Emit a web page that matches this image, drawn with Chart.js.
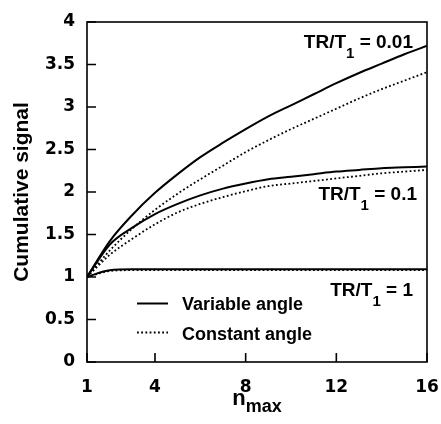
<!DOCTYPE html>
<html>
<head>
<meta charset="utf-8">
<script src="https://cdn.jsdelivr.net/npm/chart.js@4/dist/chart.umd.min.js"></script>
<style>
  html, body { margin: 0; padding: 0; background: #fff; }
  canvas { display: block; }
</style>
</head>
<body>
<canvas id="chart" width="441" height="424"></canvas>
<script>
// n_max values and cumulative signal
const nValues = [1, 2, 3, 4, 5, 6, 7, 8, 9, 10, 11, 12, 13, 14, 15, 16]
const varAngle001 = [1.00, 1.42, 1.73, 1.99, 2.21, 2.41, 2.58, 2.74, 2.89, 3.02, 3.15, 3.28, 3.40, 3.51, 3.62, 3.72]
const constAngle001 = [1.00, 1.31, 1.57, 1.79, 1.98, 2.15, 2.31, 2.47, 2.61, 2.74, 2.86, 2.98, 3.10, 3.21, 3.31, 3.41]
const varAngle01 = [1.00, 1.38, 1.58, 1.74, 1.86, 1.96, 2.04, 2.10, 2.15, 2.18, 2.21, 2.24, 2.26, 2.28, 2.29, 2.30]
const constAngle01 = [1.00, 1.26, 1.45, 1.62, 1.76, 1.86, 1.94, 2.01, 2.07, 2.10, 2.13, 2.16, 2.19, 2.22, 2.24, 2.26]
const varAngle1 = [1.00, 1.08, 1.09, 1.09, 1.09, 1.09, 1.09, 1.09, 1.09, 1.09, 1.09, 1.09, 1.09, 1.09, 1.09, 1.09]
const constAngle1 = [1.00, 1.07, 1.08, 1.08, 1.08, 1.08, 1.08, 1.08, 1.08, 1.08, 1.08, 1.08, 1.08, 1.08, 1.08, 1.08]

const xTicks = [1, 4, 8, 12, 16]
const legendLabels = ['Variable angle', 'Constant angle']
const ratioLabels = ['0.01', '0.1', '1']

const BLACK = '#000'
const textFont = 'bold 19px "Liberation Sans", Arial, sans-serif'
const subFont = 'bold 15px "Liberation Sans", Arial, sans-serif'

function pts(arr) {
    return nValues.map((n, i) => ({ x: n, y: arr[i] }))
}

function solid(arr) {
    return { data: pts(arr), borderColor: BLACK, borderWidth: 2, pointRadius: 0, cubicInterpolationMode: 'monotone', fill: false }
}
function dotted(arr) {
    return { data: pts(arr), borderColor: BLACK, borderWidth: 1.8, borderDash: [1.8, 2.4], pointRadius: 0, cubicInterpolationMode: 'monotone', fill: false }
}

// "TR/T1 = x" with subscript, right aligned at xEnd
function drawRatio(ctx, value, xEnd, baseline) {
    const a = 'TR/T', b = ' = ' + value
    ctx.font = subFont
    const wSub = ctx.measureText('1').width
    ctx.font = textFont
    const wa = ctx.measureText(a).width
    const wb = ctx.measureText(b).width
    let x = xEnd - (wa + wSub + wb)
    ctx.textAlign = 'left'
    ctx.textBaseline = 'alphabetic'
    ctx.fillText(a, x, baseline)
    ctx.fillText(b, x + wa + wSub, baseline)
    ctx.font = subFont
    ctx.fillText('1', x + wa, baseline + 10)
}

const decor = {
    id: 'decor',
    afterDraw(chart) {
        const ctx = chart.ctx
        const area = chart.chartArea
        const xs = chart.scales.x, ys = chart.scales.y
        ctx.save()
        ctx.strokeStyle = BLACK
        ctx.fillStyle = BLACK
        // frame
        ctx.lineWidth = 1.6
        ctx.strokeRect(area.left, area.top, area.right - area.left, area.bottom - area.top)
        // inward ticks
        ctx.beginPath()
        ys.ticks.forEach(t => {
            const y = ys.getPixelForValue(t.value)
            ctx.moveTo(area.left, y)
            ctx.lineTo(area.left + 9, y)
        })
        xs.ticks.forEach(t => {
            const x = xs.getPixelForValue(t.value)
            ctx.moveTo(x, area.bottom)
            ctx.lineTo(x, area.bottom - 9)
        })
        ctx.stroke()

        // axis titles
        ctx.font = 'bold 21px "Liberation Sans", Arial, sans-serif'
        ctx.save()
        ctx.translate(28, (area.top + area.bottom) / 2)
        ctx.rotate(-Math.PI / 2)
        ctx.textAlign = 'center'
        ctx.textBaseline = 'alphabetic'
        ctx.fillText('Cumulative signal', 0, 0)
        ctx.restore()

        ctx.font = 'bold 22px "Liberation Sans", Arial, sans-serif'
        const wn = ctx.measureText('n').width
        ctx.font = 'bold 18px "Liberation Sans", Arial, sans-serif'
        const wm = ctx.measureText('max').width
        const x0 = (area.left + area.right) / 2 - (wn + wm) / 2
        ctx.textAlign = 'left'
        ctx.fillText('max', x0 + wn, 412)
        ctx.font = 'bold 22px "Liberation Sans", Arial, sans-serif'
        ctx.fillText('n', x0, 405)

        // ratio labels
        drawRatio(ctx, ratioLabels[0], 413, 48)
        drawRatio(ctx, ratioLabels[1], 417, 200)
        drawRatio(ctx, ratioLabels[2], 413, 296)

        // legend
        ctx.lineWidth = 2
        ctx.beginPath()
        ctx.moveTo(137, 303.5)
        ctx.lineTo(168, 303.5)
        ctx.stroke()
        ctx.lineWidth = 1.8
        ctx.setLineDash([1.8, 2.4])
        ctx.beginPath()
        ctx.moveTo(137, 332.5)
        ctx.lineTo(168, 332.5)
        ctx.stroke()
        ctx.setLineDash([])
        ctx.font = 'bold 18px "Liberation Sans", Arial, sans-serif'
        ctx.fillText(legendLabels[0], 182, 310)
        ctx.fillText(legendLabels[1], 182, 339.5)
        ctx.restore()
    }
}

const tickFont = { family: '"DejaVu Sans", sans-serif', size: 17, weight: 'bold' }

new Chart(document.getElementById('chart'), {
    type: 'line',
    data: {
        datasets: [
            solid(varAngle001), dotted(constAngle001),
            solid(varAngle01), dotted(constAngle01),
            solid(varAngle1), dotted(constAngle1)
        ]
    },
    options: {
        responsive: false,
        devicePixelRatio: 1,
        animation: false,
        layout: { padding: { left: 0, top: 22, right: 14, bottom: 0 } },
        plugins: { legend: { display: false }, tooltip: { enabled: false } },
        scales: {
            x: {
                type: 'linear',
                min: 1,
                max: 16,
                afterBuildTicks: s => { s.ticks = xTicks.map(v => ({ value: v })) },
                afterFit: s => { s.height = 62; s.paddingLeft = 0; s.paddingRight = 0 },
                grid: { display: false, drawTicks: false },
                border: { display: false },
                ticks: { color: BLACK, font: tickFont, padding: 15, maxRotation: 0, autoSkip: false }
            },
            y: {
                min: 0,
                max: 4,
                afterFit: s => { s.width = 87; s.paddingTop = 0; s.paddingBottom = 0 },
                grid: { display: false, drawTicks: false },
                border: { display: false },
                ticks: { color: BLACK, font: tickFont, padding: 12, stepSize: 0.5, callback: v => String(v) }
            }
        }
    },
    plugins: [decor]
})
</script>
</body>
</html>
